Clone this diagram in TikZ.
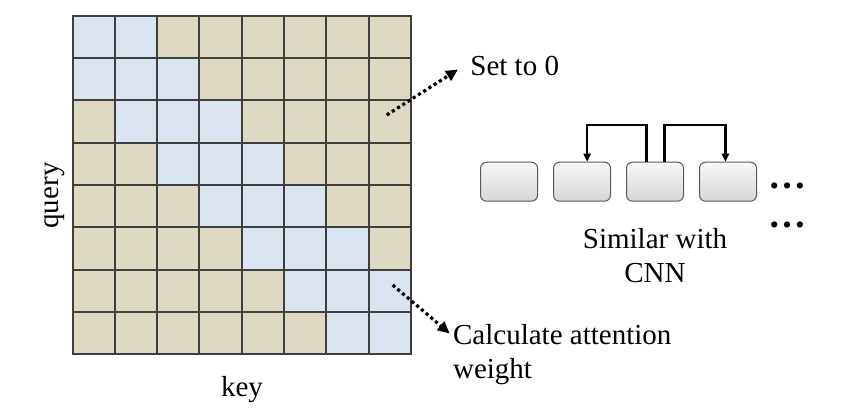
\documentclass[tikz,border=0pt]{standalone}
\usepackage{fontspec}
\setmainfont{Liberation Serif}
\usetikzlibrary{arrows.meta,positioning}
\definecolor{cellblue}{HTML}{DBE4F1}
\definecolor{celltan}{HTML}{DDD9C3}
\definecolor{gridgray}{HTML}{3F3F3F}
\definecolor{boxedge}{HTML}{595959}

\tikzset{
  cellbox/.style={draw=boxedge, line width=0.5pt, rounded corners=3pt,
    top color=gray!6, bottom color=gray!32,
    minimum width=28.5pt, minimum height=19.5pt, inner sep=0pt},
  loopline/.style={line width=1.2pt, -{Triangle[length=4pt,width=3.6pt]}},
  dotline/.style={line width=1.6pt, dash pattern=on 1.6pt off 1.5pt,
    -{Triangle[length=6pt,width=5.5pt]}},
  lbl/.style={font=\fontsize{14.5}{17}\selectfont, inner sep=0pt},
  dotslbl/.style={font=\fontsize{19}{19}\selectfont\bfseries, inner sep=0pt}
}

\begin{document}
\begin{tikzpicture}[x=0.5pt, y=-0.5pt]
  \useasboundingbox (0,0) rectangle (851,412);

  % attention matrix, band |i-j| <= 1
  \foreach \i in {0,...,7} {
    \foreach \j in {0,...,7} {
      \pgfmathtruncatemacro\d{abs(\i-\j)}
      \ifnum\d<2 \def\cellcol{cellblue}\else\def\cellcol{celltan}\fi
      \filldraw[fill=\cellcol, draw=gridgray, line width=1pt]
        ({72.5+\j*42.3},{15.7+\i*42.3}) rectangle ++(42.3,42.3);
    }
  }

  \node[lbl, anchor=base] (key) at (242,396.7) {key};
  \node[lbl, rotate=90] (query) at (55,195.5) {query};

  % labels for the matrix
  \node[lbl, anchor=base west] (setzero) at (470,75) {Set to 0};
  \node[lbl, anchor=base west, align=left] (calc) at (452.7,378)
    {Calculate attention\\weight};

  \coordinate (zeropt) at (386.7,115);
  \coordinate (bandpt) at (392.7,285);
  \draw[dotline] (zeropt) -- ([xshift=-6pt,yshift=-2pt]setzero.west);
  \draw[dotline] (bandpt) -- ([xshift=-1.5pt,yshift=-5pt]calc.north west);

  % sliding window like a CNN
  \node[cellbox] (b1) at (509,181.7) {};
  \node[cellbox, right=7.5pt of b1] (b2) {};
  \node[cellbox, right=7.5pt of b2] (b3) {};
  \node[cellbox, right=7.5pt of b3] (b4) {};

  \draw[loopline] ([xshift=-4.3pt]b3.north) -- ++(0,-37) -| ([xshift=2.6pt]b2.north);
  \draw[loopline] ([xshift=4.8pt]b3.north) -- ++(0,-37) -| ([xshift=-1.3pt]b4.north);

  \node[dotslbl, anchor=base] (dotsa) at (787,188.5) {…};
  \node[dotslbl, anchor=base] (dotsb) at (787,227.5) {…};

  \node[lbl, align=center] (cnnlbl) at (655,255.5) {Similar with\\CNN};
\end{tikzpicture}
\end{document}
